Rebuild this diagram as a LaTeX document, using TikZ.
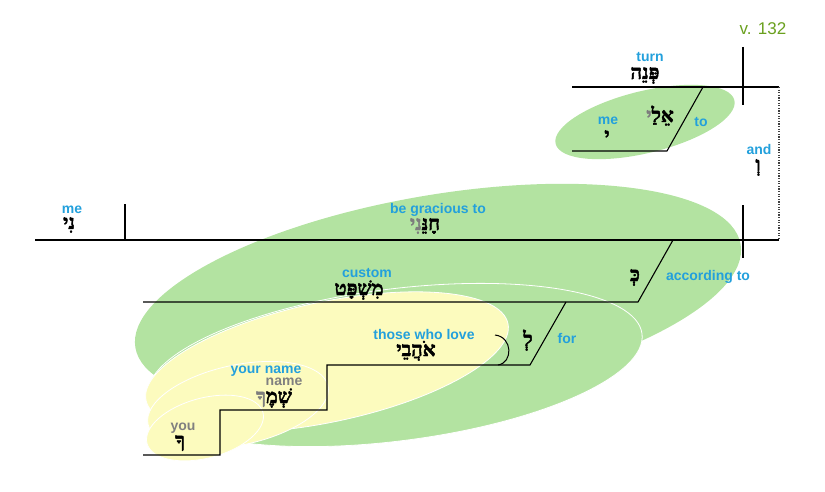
\documentclass[tikz,border=0pt]{standalone}
\usepackage{fontspec}
\setmainfont{Liberation Sans}
\newfontfamily\heb[Script=Hebrew, BoldFont={Liberation Serif Bold}, BoldFeatures={FakeBold=2.2}]{Liberation Serif}
\definecolor{lblue}{RGB}{35,160,220}
\definecolor{lgreen}{RGB}{179,227,161}
\definecolor{lyellow}{RGB}{252,251,190}
\definecolor{vgreen}{RGB}{106,160,30}
\definecolor{tgray}{RGB}{128,128,128}
\definecolor{hgray}{RGB}{125,125,125}
\begin{document}
\begin{tikzpicture}[x=1pt,y=-1pt,
  en/.style={font=\bfseries\fontsize{14}{14}\selectfont, text=lblue, anchor=base, inner sep=0pt},
  eg/.style={en, text=tgray},
  hb/.style={font=\heb\bfseries\fontsize{20}{20}\selectfont, anchor=base, inner sep=0pt},
  ln/.style={line width=1.1pt, line join=miter},
  gre/.style={fill=lgreen},
  yel/.style={fill=lyellow, draw=white, line width=0.8pt},
  gro/.style={fill=lgreen, draw=white, line width=0.8pt}]
\useasboundingbox (0,0) rectangle (825,492);
% ellipses
\path[gre, rotate around={9.7:(438,296)}] (438,296) ellipse [x radius=307, y radius=101];
\path[gro, rotate around={7.2:(395,365)}] (395,365) ellipse [x radius=249, y radius=76];
\path[yel, rotate around={12:(327,362)}] (327,362) ellipse [x radius=185, y radius=60];
\path[yel, rotate around={12:(238,405)}] (238,405) ellipse [x radius=92, y radius=40];
\path[yel, rotate around={15:(205,428)}] (205,428) ellipse [x radius=60, y radius=30];
\path[gre, rotate around={13.7:(645,122)}] (645,122) ellipse [x radius=92, y radius=31];
% coordinates
\coordinate (t1) at (572,87); \coordinate (t2) at (779,87);
\coordinate (tv1) at (743,47); \coordinate (tv2) at (743,105);
\coordinate (ts1) at (703,87); \coordinate (ts2) at (667,151); \coordinate (tl) at (572,151);
\coordinate (d2) at (779,240);
\coordinate (m1) at (35,240); \coordinate (mv1) at (125,204); \coordinate (mv2) at (125,240);
\coordinate (rv1) at (743,205); \coordinate (rv2) at (743,258);
\coordinate (s1) at (673,240); \coordinate (s2) at (638,302); \coordinate (c1) at (143,302);
\coordinate (f1) at (566,302); \coordinate (f2) at (530,365);
\coordinate (st1) at (327,365); \coordinate (st2) at (327,410); \coordinate (st3) at (220,410);
\coordinate (st4) at (220,455); \coordinate (st5) at (143,455);
\coordinate (a1) at (495,335); \coordinate (a2) at (498,365);
% lines
\draw[ln] (t1) -- (t2);
\draw[ln] (tv1) -- (tv2);
\draw[ln] (ts1) -- (ts2) -- (tl);
\draw[line width=1.1pt, dash pattern=on 1.2pt off 1.4pt, draw=black!75] (t2) -- (d2);
\draw[ln] (m1) -- (d2);
\draw[ln] (mv1) -- (mv2);
\draw[ln] (rv1) -- (rv2);
\draw[ln] (s1) -- (s2) -- (c1);
\draw[ln] (f1) -- (f2) -- (st1) -- (st2) -- (st3) -- (st4) -- (st5);
\draw[line width=1pt] (a1) .. controls (513,337) and (513,363) .. (a2);
% texts
\node[font=\fontsize{17}{17}\selectfont, text=vgreen, anchor=base, inner sep=0pt] (v) at (763,35) {v. 132};
\node[en] (turn) at (650,62) {turn};
\node[hb] (hturn) at (645,79) {פְּנֵה};
\node[en] (me1) at (608,125) {me};
\node[hb] (hme1) at (607,142) {י};
\node[hb] (hto) at (660,122) {\textcolor{hgray}{י}אֵלַ};
\node[en] (to) at (701,127) {to};
\node[en] (and) at (759,155) {and};
\node[hb] (hand) at (758,171) {וְ};
\node[en] (me2) at (72,213) {me};
\node[hb] (hme2) at (69,229) {נִי};
\node[en] (grac) at (438,213) {be gracious to};
\node[hb] (hgrac) at (425,230) {\textcolor{hgray}{נִי}חָנֵּ};
\node[en] (cust) at (367,277) {custom};
\node[hb] (hcust) at (359,295) {מִשְׁפָּט};
\node[hb] (hacc) at (635,281) {כְּ};
\node[en] (acc) at (708,280) {according to};
\node[en] (love) at (424,339) {those who love};
\node[hb] (hlove) at (416,356) {אֹהֲבֵי};
\node[hb] (hfor) at (528,346) {לְ};
\node[en] (for) at (567,343) {for};
\node[en] (yn) at (266,373) {your name};
\node[eg] (nm) at (284,385) {name};
\node[hb] (hnm) at (274,403) {\textcolor{hgray}{ךָ}שְׁמֶ};
\node[eg] (you) at (183,430) {you};
\node[hb] (hyou) at (180,447) {ךָ};
\end{tikzpicture}
\end{document}
